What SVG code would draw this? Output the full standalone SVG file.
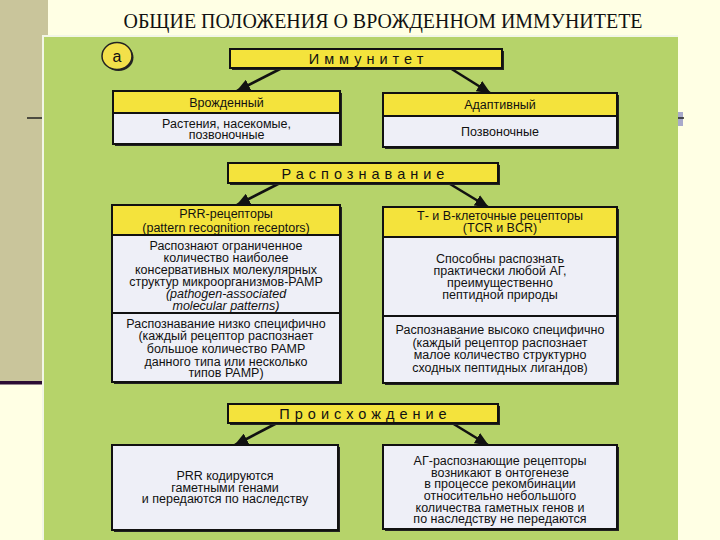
<svg xmlns="http://www.w3.org/2000/svg" width="720" height="540" viewBox="0 0 720 540">
<defs>
<marker id="ah" markerUnits="userSpaceOnUse" markerWidth="15" markerHeight="12" refX="13" refY="6" orient="auto">
<path d="M0,0 L14,6 L0,12 Z" fill="#111"/>
</marker>
<style>
.t{font-family:"Liberation Sans",Arial,sans-serif;font-size:12.5px;fill:#111;text-anchor:middle}
.h{font-size:12.5px}
.i{font-style:italic}
.lab{font-family:"Liberation Sans",Arial,sans-serif;font-size:14.5px;fill:#111;letter-spacing:5px;text-anchor:middle}
.yb{fill:#F4E33C;stroke:#111;stroke-width:2}
.wb{fill:#EEEFF7;stroke:#111;stroke-width:2}
.sh{fill:#222}
.con{stroke:#111;stroke-width:2.6;fill:none;marker-end:url(#ah)}
</style>
</defs>
<rect x="0" y="0" width="720" height="540" fill="#FFFFE4"/>
<rect x="0" y="0" width="48" height="382" fill="#C9C59B"/>
<rect x="0" y="381" width="44" height="3.5" fill="#2B0C33"/>
<line x1="27" y1="118" x2="44" y2="118" stroke="#222" stroke-width="1.5"/>
<rect x="678" y="112" width="5" height="14" fill="#A9AACB"/>
<line x1="678" y1="118" x2="684" y2="118" stroke="#222" stroke-width="1.5"/>
<text x="383" y="28" font-family="'Liberation Serif','Times New Roman',serif" font-size="22" fill="#111" text-anchor="middle" textLength="519" lengthAdjust="spacingAndGlyphs">ОБЩИЕ ПОЛОЖЕНИЯ О ВРОЖДЕННОМ ИММУНИТЕТЕ</text>
<rect x="42" y="35" width="636" height="505" fill="#B6D36A"/>
<path d="M43,540 L43,36 L678,36" fill="none" stroke="#F2F6E6" stroke-width="2"/>

<g id="label-a">
<ellipse cx="118.5" cy="57.5" rx="15" ry="13.5" class="sh"/>
<ellipse cx="117" cy="56" rx="15" ry="13.5" fill="#F2E04A" stroke="#222" stroke-width="1.5"/>
<text x="117" y="61.5" class="t" style="font-size:16px">а</text>
</g>

<g id="connectors">
<line x1="282" y1="68" x2="237" y2="91" class="con"/>
<line x1="450" y1="68" x2="490" y2="93" class="con"/>
<line x1="280" y1="183" x2="237" y2="205" class="con"/>
<line x1="450" y1="184" x2="488" y2="207" class="con"/>
<line x1="277" y1="423" x2="235" y2="445" class="con"/>
<line x1="452" y1="423" x2="488" y2="445" class="con"/>
</g>

<g id="immunitet">
<rect x="232" y="51" width="272" height="19" class="sh"/>
<rect x="230" y="49" width="272" height="19" class="yb"/>
<text x="368.5" y="63.5" class="lab">Иммунитет</text>
</g>

<g id="vrozhdennyi">
<rect x="115" y="93" width="227" height="53" class="sh"/>
<rect x="113" y="113" width="227" height="31" class="wb"/>
<rect x="113" y="91" width="227" height="22" class="yb"/>
<text x="226.5" y="106.5" class="t h">Врожденный</text>
<text x="226.5" y="127.5" class="t h">Растения, насекомые,</text>
<text x="226.5" y="138.5" class="t h">позвоночные</text>
</g>

<g id="adaptivnyi">
<rect x="385" y="95" width="234" height="54" class="sh"/>
<rect x="383" y="116" width="234" height="31" class="wb"/>
<rect x="383" y="93" width="234" height="23" class="yb"/>
<text x="500" y="109" class="t h">Адаптивный</text>
<text x="500" y="136" class="t h">Позвоночные</text>
</g>

<g id="raspoznavanie">
<rect x="230" y="165" width="270" height="20" class="sh"/>
<rect x="228" y="163" width="270" height="20" class="yb"/>
<text x="365.5" y="178.5" class="lab">Распознавание</text>
</g>

<g id="prr">
<rect x="114" y="207" width="228" height="177" class="sh"/>
<rect x="112" y="235" width="228" height="78" class="wb"/>
<rect x="112" y="313" width="228" height="69" class="wb"/>
<rect x="112" y="205" width="228" height="30" class="yb"/>
<text x="226" y="217.5" class="t">PRR-рецепторы</text>
<text x="226" y="231.5" class="t">(pattern recognition receptors)</text>
<text x="226" y="249.5" class="t">Распознают ограниченное</text>
<text x="226" y="261.5" class="t">количество наиболее</text>
<text x="226" y="273.5" class="t">консервативных молекулярных</text>
<text x="226" y="285.5" class="t">структур микроорганизмов-PAMP</text>
<text x="226" y="297.5" class="t i">(pathogen-associated</text>
<text x="226" y="309.5" class="t i">molecular patterns)</text>
<text x="226" y="327.5" class="t">Распознавание низко специфично</text>
<text x="226" y="339.5" class="t">(каждый рецептор распознает</text>
<text x="226" y="352.5" class="t">большое количество PAMP</text>
<text x="226" y="365.5" class="t">данного типа или несколько</text>
<text x="226" y="377" class="t">типов PAMP)</text>
</g>

<g id="tcr-bcr">
<rect x="385" y="209" width="234" height="176" class="sh"/>
<rect x="383" y="237" width="234" height="79" class="wb"/>
<rect x="383" y="316" width="234" height="67" class="wb"/>
<rect x="383" y="207" width="234" height="30" class="yb"/>
<text x="500" y="219.5" class="t">Т- и В-клеточные рецепторы</text>
<text x="500" y="231.5" class="t">(TCR и BCR)</text>
<text x="500" y="262.5" class="t">Способны распознать</text>
<text x="500" y="274.5" class="t">практически любой АГ,</text>
<text x="500" y="286.5" class="t">преимущественно</text>
<text x="500" y="298.5" class="t">пептидной природы</text>
<text x="500" y="333.5" class="t">Распознавание высоко специфично</text>
<text x="500" y="346.5" class="t">(каждый рецептор распознает</text>
<text x="500" y="358.5" class="t">малое количество структурно</text>
<text x="500" y="371.5" class="t">сходных пептидных лигандов)</text>
</g>

<g id="proiskhozhdenie">
<rect x="230" y="406" width="270" height="19" class="sh"/>
<rect x="228" y="404" width="270" height="19" class="yb"/>
<text x="365.5" y="418.5" class="lab">Происхождение</text>
</g>

<g id="prr-origin">
<rect x="114" y="447" width="226" height="85" class="sh"/>
<rect x="112" y="445" width="226" height="85" class="wb"/>
<text x="225" y="479.5" class="t">PRR кодируются</text>
<text x="225" y="491.5" class="t">гаметными генами</text>
<text x="225" y="503" class="t">и передаются по наследству</text>
</g>

<g id="ag-origin">
<rect x="385" y="447" width="234" height="84" class="sh"/>
<rect x="383" y="445" width="234" height="84" class="wb"/>
<text x="500" y="464.5" class="t">АГ-распознающие рецепторы</text>
<text x="500" y="476.5" class="t">возникают в онтогенезе</text>
<text x="500" y="488" class="t">в процессе рекомбинации</text>
<text x="500" y="499.5" class="t">относительно небольшого</text>
<text x="500" y="511.5" class="t">количества гаметных генов и</text>
<text x="500" y="523" class="t">по наследству не передаются</text>
</g>
</svg>
